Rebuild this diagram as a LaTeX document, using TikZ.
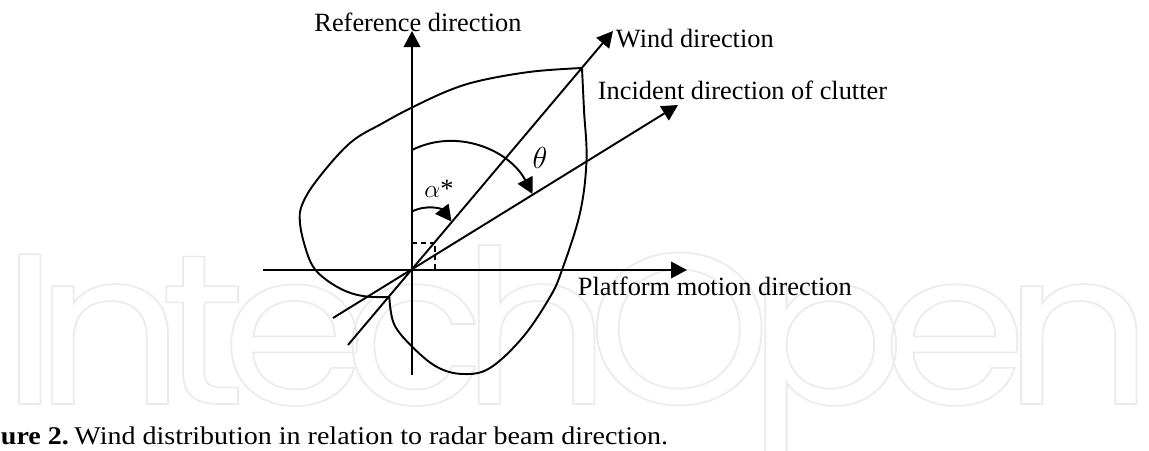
\documentclass[tikz,border=0pt]{standalone}
\usepackage{fontspec}
\usepackage{graphicx}
\setmainfont{Liberation Serif}
\newfontfamily\wmfont[LetterSpace=-10.5]{Poppins}
\usetikzlibrary{arrows.meta,positioning}

\begin{document}
\begin{tikzpicture}[>={Triangle[length=0.32cm,width=0.33cm]}, line width=1.1pt,
    lbl/.style={font=\fontsize{15}{18}\selectfont, inner sep=0pt}]
    \useasboundingbox (-8.24,-3.6) rectangle (14.74,5.4);
    % 水印
    \node[anchor=base west, inner sep=0pt, text=black!8] (wm) at (-8.24,-2.68) {\resizebox{23.05cm}{3.18cm}{\wmfont\fontsize{130}{130}\selectfont\special{pdf:code 1 Tr 1 w}IntechOpen\special{pdf:code 0 Tr}}};
    % 坐标点
    \coordinate (O) at (0,0);
    \coordinate (refTip) at (0,4.78);
    \coordinate (refEnd) at (0,-2.1);
    \coordinate (motTip) at (5.5,0);
    \coordinate (motEnd) at (-2.98,0);
    \coordinate (windTip) at (4.02,4.78);
    \coordinate (windEnd) at (-1.28,-1.5);
    \coordinate (incTip) at (5.32,3.3);
    \coordinate (incEnd) at (-1.58,-0.96);
    % 轴与方向
    \draw[->] (refEnd) -- (refTip);
    \draw[->] (motEnd) -- (motTip);
    \draw[->] (windEnd) -- (windTip);
    \draw[->] (incEnd) -- (incTip);
    % 风向分布
    \draw plot[smooth, tension=0.6] coordinates {(3.4,4.04) (2.42,3.97) (1.42,3.8) (0.76,3.6) (0,3.25) (-0.58,2.94) (-1.24,2.54) (-1.9,1.8) (-2.2,1.3) (-2.24,0.94) (-2.14,0.47) (-1.98,0.07) (-1.71,-0.2) (-1.31,-0.43) (-0.91,-0.53) (-0.454,-0.54)};
    \draw plot[smooth, tension=0.6] coordinates {(-0.454,-0.54) (-0.36,-1.08) (0,-1.53) (0.5,-1.94) (1.02,-2.08) (1.56,-1.96) (2.22,-1.34) (2.76,-0.54) (3.0,0) (3.36,1.14) (3.49,2.2) (3.44,3.2) (3.4,4.04)};
    % 直角虚线
    \draw[dashed, line width=0.9pt, dash pattern=on 3pt off 2pt] (0,0.54) -- (0.46,0.54) -- (0.46,0);
    % 角度
    \draw[->] (0,1.17) .. controls (0.3,1.32) and (0.6,1.22) .. (0.79,0.97);
    \draw[->] (0,2.4) .. controls (0.9,2.85) and (1.95,2.4) .. (2.41,1.52);
    % 标注
    \node[lbl, anchor=base] (refLbl) at (0.12,4.78) {Reference direction};
    \node[lbl, anchor=base west] (windLbl) at (4.06,4.46) {Wind direction};
    \node[lbl, anchor=base west] (incLbl) at (3.7,3.42) {Incident direction of clutter};
    \node[lbl, anchor=base west] (motLbl) at (3.3,-0.5) {Platform motion direction};
    \node[lbl] (alphaLbl) at (0.54,1.62) {$\alpha$*};
    \node[lbl, font=\fontsize{18}{20}\selectfont] (thetaLbl) at (2.56,2.24) {$\theta$};
    % 图题
    \node[anchor=base west, inner sep=0pt, font=\fontsize{14.5}{17}\selectfont] (cap) at (-8.24,-3.48) {\scalebox{1.1}[1]{\textbf{ure 2.}\hspace{0.1cm}Wind distribution in relation to radar beam direction.}};
\end{tikzpicture}
\end{document}
